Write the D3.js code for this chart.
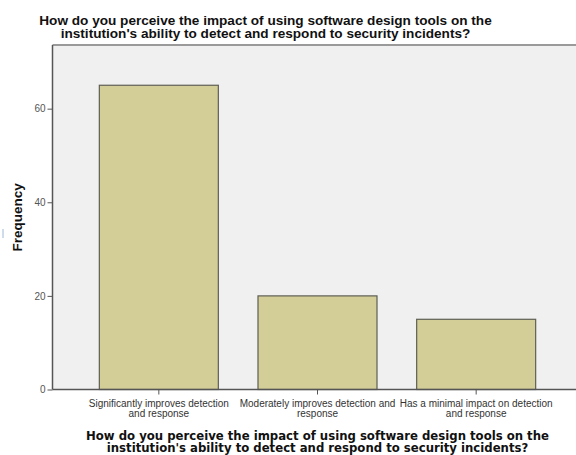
<!DOCTYPE html>
<html><head><meta charset="utf-8">
<script src="https://cdn.jsdelivr.net/npm/d3@7/dist/d3.min.js"></script>
<style>body{margin:0;background:#fff}svg{display:block}</style>
</head><body>
<script>
const categories = [
  ["Significantly improves detection", "and response"],
  ["Moderately improves detection and", "response"],
  ["Has a minimal impact on detection", "and response"]
];
const frequencies = [65, 20, 15];
const yTicks = [0, 20, 40, 60];
const titleLines = ["How do you perceive the impact of using software design tools on the", "institution's ability to detect and respond to security incidents?"];
const yLabel = "Frequency";

(function () {
const W = 576, H = 455;
const svg = d3.select("body").append("svg").attr("width", W).attr("height", H);
const pL = 52.5, pR = 577, pT = 45, pB = 389.5;

const x = d3.scaleBand().domain(d3.range(categories.length)).range([79.5, 555.5]).paddingInner(0.25).paddingOuter(0.125);
const y = d3.scaleLinear().domain([0, 73.6]).range([pB, pT]);

svg.append("rect").attr("x", pL).attr("y", pT).attr("width", pR - pL).attr("height", pB - pT).attr("fill", "#f0f0f0");
svg.append("line").attr("x1", pL).attr("x2", pR).attr("y1", pT).attr("y2", pT).attr("stroke", "#9a9a9a").attr("stroke-width", 2);

svg.selectAll("rect.bar").data(frequencies).join("rect").attr("class", "bar")
  .attr("x", (d, i) => x(i)).attr("width", x.bandwidth())
  .attr("y", d => y(d)).attr("height", d => y(0) - y(d))
  .attr("fill", "#d3ce97").attr("stroke", "#5e5e55").attr("stroke-width", 1.2);

const ya = svg.append("g").attr("transform", `translate(${pL},0)`)
  .call(d3.axisLeft(y).tickValues(yTicks).tickSize(5).tickPadding(2));
ya.select(".domain").attr("stroke", "#555").attr("stroke-width", 1.5).attr("d", `M0,${pT}V${pB}`);
ya.selectAll(".tick line").attr("stroke", "#555");
ya.selectAll(".tick text").attr("fill", "#555").style("font", "10px 'Liberation Sans', Arial, sans-serif");

const xa = svg.append("g").attr("transform", `translate(0,${pB})`)
  .call(d3.axisBottom(x).tickSize(5).tickFormat(""));
xa.select(".domain").attr("stroke", "#555").attr("stroke-width", 1.5).attr("d", `M${pL},0H${pR}`);
xa.selectAll(".tick line").attr("stroke", "#555");
xa.selectAll(".tick").each(function(d) {
  const t = d3.select(this).append("text").attr("fill", "#333").attr("text-anchor", "middle")
    .style("font", "10px 'Liberation Sans', Arial, sans-serif");
  categories[d].forEach((s, k) => t.append("tspan").attr("x", 0).attr("y", 17.5 + k * 10).text(s));
});

const tt = svg.append("text").attr("text-anchor", "middle").attr("fill", "#111")
  .style("font", "bold 13.6px 'Liberation Sans', Arial, sans-serif");
titleLines.forEach((s, k) => tt.append("tspan").attr("x", 265.5).attr("y", 25 + k * 12.5).text(s));

const bt = svg.append("text").attr("text-anchor", "middle").attr("fill", "#111")
  .style("font", "bold 11.7px 'DejaVu Sans', sans-serif");
titleLines.forEach((s, k) => bt.append("tspan").attr("x", 317.5).attr("y", 439.5 + k * 12.5).text(s));

svg.append("text").attr("transform", `translate(22,${(pT + pB) / 2}) rotate(-90)`)
  .attr("text-anchor", "middle").attr("fill", "#111")
  .style("font", "bold 13.5px 'Liberation Sans', Arial, sans-serif").text(yLabel);

svg.append("line").attr("x1", 3).attr("x2", 3).attr("y1", 229).attr("y2", 238).attr("stroke", "#9cb8d8").attr("stroke-width", 1);
})();
</script>
</body></html>
